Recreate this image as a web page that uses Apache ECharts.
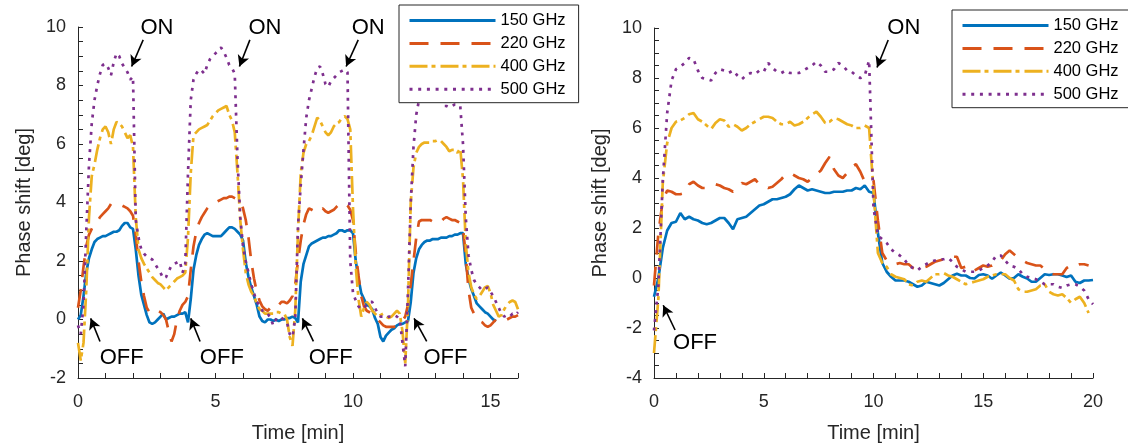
<!DOCTYPE html>
<html>
<head>
<meta charset="utf-8">
<script src="https://cdn.jsdelivr.net/npm/echarts@6/dist/echarts.min.js"></script>
<style>html,body{margin:0;padding:0;background:#fff}#c{width:1128px;height:448px}</style>
</head>
<body>
<div id="c"></div>
<script>
// ---------- DATA ----------
const seriesNames = ['150 GHz', '220 GHz', '400 GHz', '500 GHz'];

// Left panel: sample times 0..16 min, step 0.1
const tLeft = Array.from({length: 161}, (_, i) => i / 10);
const b150L = [
0.0,0.15,0.8,1.6,2.1,2.4,2.65,2.75,2.8,2.85,
2.85,2.9,2.95,3.0,3.0,3.05,3.2,3.3,3.3,3.15,
3.1,2.4,1.5,0.85,0.5,0.15,-0.1,-0.15,-0.1,0.0,
0.1,0.2,0.0,0.05,0.1,0.1,0.15,0.2,0.2,0.25,
-0.1,0.7,1.7,2.2,2.55,2.75,2.9,2.95,2.9,2.85,
2.85,2.85,2.85,2.95,3.05,3.15,3.15,3.1,3.0,2.9,
2.7,1.95,1.45,1.1,0.8,0.5,0.1,-0.05,-0.1,0.0,
0.0,-0.05,0.0,-0.05,0.0,0.0,0.05,0.05,0.1,0.05,
-0.1,1.3,1.9,2.2,2.5,2.6,2.65,2.7,2.75,2.8,
2.8,2.85,2.85,2.9,2.95,3.05,3.05,3.0,3.05,3.05,
2.95,2.0,1.4,0.9,0.7,0.5,0.45,0.35,0.05,-0.15,
-0.6,-0.75,-0.55,-0.45,-0.35,-0.3,-0.2,-0.15,-0.15,-0.1,
-0.05,0.6,1.6,2.1,2.4,2.55,2.65,2.7,2.7,2.75,
2.75,2.75,2.8,2.8,2.8,2.85,2.85,2.9,2.9,2.95,
2.95,1.9,1.4,1.05,0.8,0.55,0.45,0.35,0.25,0.2,
0.1,0.0,-0.05,null,null,null,null,null,null,null,
null];
const o220L = [
0.4,1.0,1.8,2.5,2.9,3.1,3.25,3.35,3.5,3.6,
3.7,3.8,3.95,3.95,3.95,3.9,3.9,3.85,3.8,3.7,
3.55,2.9,2.0,1.3,0.8,0.4,0.25,0.2,0.25,0.3,
0.25,0.15,0.0,-0.4,-0.75,-0.5,0.0,0.3,0.5,0.6,
0.8,1.7,2.5,3.0,3.3,3.5,3.65,3.8,3.9,3.95,
4.0,4.05,4.1,4.15,4.15,4.2,4.2,4.15,4.1,4.05,
3.8,3.4,2.8,2.0,1.4,0.95,0.65,0.45,0.35,0.3,
0.4,0.5,0.55,0.5,0.6,0.6,0.55,0.65,0.8,1.2,
2.0,2.7,3.25,3.6,3.8,3.75,3.7,3.65,3.75,3.8,
3.7,3.65,3.7,3.75,3.85,3.95,4.0,3.95,3.9,3.75,
3.4,2.3,1.5,0.8,0.45,0.3,0.25,0.2,0.1,0.0,
-0.1,-0.2,-0.25,-0.25,-0.25,-0.25,-0.2,-0.15,-0.05,0.1,
0.5,1.2,2.0,2.8,3.35,3.4,3.4,3.4,3.4,3.35,
3.35,3.3,3.35,3.45,3.5,3.45,3.4,3.4,3.35,3.3,
3.1,2.2,1.0,0.4,0.2,0.05,-0.05,-0.1,-0.2,-0.25,
-0.2,-0.1,0.0,0.05,0.05,0.0,0.0,0.05,0.1,0.1,
0.15];
const y400L = [
-0.8,-1.4,-0.8,1.0,3.5,4.9,5.3,5.8,6.2,6.5,
6.6,6.4,6.0,6.5,6.75,6.7,6.6,6.4,6.2,6.3,
5.9,3.5,2.4,2.1,1.9,1.75,1.6,1.45,1.35,1.25,
1.2,1.1,1.0,1.1,1.2,1.3,1.4,1.45,1.5,1.6,
2.8,5.0,6.3,6.4,6.5,6.55,6.6,6.65,6.8,6.95,
7.05,7.15,7.2,7.25,7.3,7.0,6.8,6.4,5.0,3.4,
2.4,1.6,1.2,0.95,0.8,0.55,0.35,0.3,0.2,0.2,
0.2,0.2,0.25,0.25,0.2,0.2,0.0,-0.6,-0.9,0.3,
3.0,5.0,5.7,6.0,6.1,6.3,6.6,6.9,6.8,6.6,
6.4,6.3,6.4,6.6,6.7,6.75,6.9,6.95,6.85,6.5,
3.8,1.8,0.7,0.1,0.4,0.6,0.5,0.3,0.2,0.1,
0.15,0.2,0.1,0.05,0.1,0.2,0.3,0.2,-0.4,-1.5,
0.5,4.0,5.2,5.7,5.9,6.0,6.05,6.05,6.05,6.1,
6.1,6.15,6.1,6.0,5.9,5.75,5.8,5.8,5.7,5.85,
4.8,2.6,1.6,1.1,0.85,0.7,0.8,0.95,1.1,1.15,
0.9,0.5,0.3,0.1,0.15,0.35,0.5,0.6,0.65,0.6,
0.35];
const p500L = [
-0.2,-0.5,0.5,3.0,5.3,6.7,7.5,8.0,8.4,8.7,
8.75,8.6,8.35,8.8,9.1,9.0,8.75,8.6,8.45,8.2,
8.3,3.4,2.8,2.4,2.25,2.15,2.1,2.05,1.9,1.75,
1.6,1.4,1.45,1.65,1.85,1.9,1.95,2.0,1.6,1.9,
5.0,7.5,8.2,8.4,8.55,8.5,8.4,8.7,8.9,9.0,
9.1,9.2,9.3,9.15,8.95,8.7,8.6,8.4,5.5,3.5,
2.5,2.0,1.6,1.2,0.9,0.6,0.5,0.3,0.3,0.2,
0.05,-0.2,0.0,0.1,0.05,0.0,-0.1,-0.5,-0.6,0.05,
3.2,4.6,5.8,6.9,7.5,7.9,8.3,8.6,8.65,8.4,
8.05,7.95,8.15,8.25,8.35,8.45,8.5,8.55,8.45,2.0,
0.9,0.65,0.45,0.35,0.4,0.5,0.6,0.6,0.4,0.2,
0.1,0.1,0.05,0.1,0.1,0.15,0.1,0.0,-0.8,-1.6,
1.0,4.0,5.9,7.0,7.5,7.8,7.9,8.0,8.0,7.9,
7.8,7.7,7.5,7.3,7.3,7.25,7.3,7.35,7.35,7.3,
6.0,3.5,2.2,1.7,1.35,1.2,1.1,1.0,1.05,1.1,
0.95,0.8,0.6,0.4,0.2,0.1,0.15,0.1,0.2,0.15,
0.25];

// Right panel: sample times 0..20 min, step 0.2
const tRight = Array.from({length: 101}, (_, i) => i * 2 / 10);
const b150R = [
-0.75,0.0,1.2,1.9,2.2,2.25,2.6,2.35,2.45,2.35,
2.3,2.2,2.15,2.2,2.3,2.4,2.4,2.2,1.95,2.35,
2.4,2.45,2.6,2.75,2.9,2.95,3.05,3.15,3.15,3.2,
3.25,3.35,3.55,3.7,3.6,3.5,3.55,3.5,3.45,3.4,
3.4,3.45,3.45,3.45,3.5,3.5,3.6,3.55,3.7,3.45,
3.4,1.8,0.6,0.25,0.05,-0.1,-0.1,-0.1,-0.15,-0.25,
-0.35,-0.3,-0.15,-0.2,-0.25,-0.3,-0.2,-0.05,0.1,0.17,
0.1,0.1,0.0,-0.02,0.12,0.15,0.1,-0.03,0.1,0.22,
0.1,-0.03,0.0,0.15,0.05,-0.02,-0.15,-0.15,0.0,0.15,
0.12,0.15,0.15,0.1,0.04,0.1,-0.15,-0.2,-0.1,-0.1,
-0.08];
const o220R = [
-0.3,1.8,3.1,3.5,3.45,3.35,3.35,3.4,3.75,3.85,
3.7,3.6,3.6,3.7,3.75,3.7,3.6,3.55,3.45,3.6,
3.8,3.75,3.85,3.95,3.75,3.7,3.6,3.65,3.8,3.95,
4.15,4.2,4.1,4.0,3.95,3.85,4.0,4.15,4.3,4.6,
4.85,4.35,4.1,4.0,4.2,4.45,4.55,4.25,3.85,3.95,
3.9,2.3,1.0,0.7,0.6,0.55,0.6,0.55,0.55,0.4,
0.35,0.4,0.45,0.55,0.65,0.7,0.75,0.75,0.85,0.85,
0.4,0.45,0.5,0.3,0.4,0.5,0.45,0.5,0.65,0.7,
0.95,1.1,0.95,0.8,0.7,0.6,0.55,0.5,0.5,0.35,
0.2,0.15,0.15,0.15,0.4,0.5,0.45,0.55,0.55,0.5,
null];
const y400R = [
-3.0,-0.8,3.8,5.4,6.0,6.25,6.3,6.4,6.55,6.6,
6.35,6.25,6.1,5.95,6.2,6.35,6.3,6.05,6.15,6.05,
5.9,6.0,6.15,6.25,6.35,6.45,6.45,6.4,6.25,6.15,
6.15,6.25,6.1,6.15,6.25,6.4,6.55,6.65,6.45,6.2,
6.25,6.4,6.35,6.25,6.15,6.1,6.0,6.0,6.1,6.0,
3.5,1.0,0.6,0.45,0.15,0.05,0.0,-0.05,-0.25,-0.3,
-0.15,-0.1,-0.15,0.0,0.15,0.15,0.2,0.1,0.05,-0.05,
-0.15,-0.25,-0.2,-0.15,-0.1,-0.05,0.05,0.1,0.15,0.15,
0.15,0.0,-0.1,-0.45,-0.55,-0.55,-0.5,-0.45,-0.3,-0.25,
-0.55,-0.65,-0.7,-0.65,-0.8,-1.0,-0.85,-0.75,-1.0,-1.4,
null];
const p500R = [
-2.1,-0.3,3.9,6.6,7.9,8.35,8.45,8.6,8.8,8.75,
8.3,8.0,7.95,7.9,8.2,8.35,8.3,8.2,8.3,8.1,
7.95,8.1,8.2,8.15,8.3,8.25,8.6,8.4,8.25,8.2,
8.3,8.2,8.2,8.2,8.3,8.4,8.5,8.65,8.5,8.25,
8.25,8.35,8.6,8.5,8.3,8.25,8.1,8.0,8.1,8.7,
2.8,1.7,1.55,1.4,1.15,1.0,0.9,0.75,0.5,0.4,
0.3,0.45,0.55,0.65,0.7,0.75,0.75,0.8,0.65,0.45,
0.35,0.25,0.25,0.25,0.3,0.4,0.5,0.65,0.9,0.9,
0.7,0.5,0.45,0.35,0.15,0.05,0.0,-0.05,-0.15,-0.25,
-0.25,-0.25,-0.35,-0.4,-0.3,-0.25,-0.25,-0.35,-0.5,-0.85,
-1.05];

// Annotations (data coordinates)
const onTextLeft = [[2.87, 9.97], [6.8, 9.97], [10.55, 9.97]];
const offTextLeft = [[1.59, -1.32], [5.23, -1.32], [9.19, -1.32], [13.36, -1.32]];
const arrowsLeft = [
  [[2.37, 9.56], [1.95, 8.65]], [[6.25, 9.56], [5.87, 8.65]], [[10.19, 9.56], [9.75, 8.65]],
  [[0.8, -0.75], [0.46, 0.04]], [[4.44, -0.75], [4.1, 0.04]], [[8.56, -0.75], [8.16, 0.04]], [[12.68, -0.75], [12.22, 0.04]]
];
const onTextRight = [[11.38, 10.0]];
const offTextRight = [[1.87, -2.61]];
const arrowsRight = [[[10.67, 9.52], [10.16, 8.42]], [[0.96, -2.08], [0.42, -1.09]]];

// ---------- STYLE ----------
const FONT = '"Liberation Sans", Arial, Helvetica, sans-serif';
const AX = '#262626';
const LW = 2.7;
const lineStyles = [
  {color: '#0072BD', type: 'solid'},
  {color: '#D95319', type: [19, 12]},
  {color: '#EDB120', type: [18, 4, 4, 5]},
  {color: '#7E2F8E', type: [3, 5.7]}
];

function pairs(t, v) { return t.map((x, i) => [x, v[i]]); }

function mkX(gi, max) {
  return {
    gridIndex: gi, type: 'value', min: 0, max: max, interval: 1,
    name: 'Time [min]', nameLocation: 'middle', nameGap: 45,
    nameTextStyle: {fontSize: 20, color: AX, fontFamily: FONT},
    axisLine: {show: true, onZero: false, lineStyle: {color: AX, width: 1}},
    axisTick: {show: true, inside: true, length: 5, lineStyle: {color: AX, width: 1}},
    axisLabel: {fontSize: 18, color: AX, fontFamily: FONT, margin: 15,
      formatter: v => (Math.abs(v % 5) < 1e-9 ? String(v) : '')},
    splitLine: {show: false}
  };
}
function mkY(gi, min) {
  return {
    gridIndex: gi, type: 'value', min: min, max: 10, interval: 0.5,
    name: 'Phase shift [deg]', nameLocation: 'middle', nameGap: 44,
    nameTextStyle: {fontSize: 20, color: AX, fontFamily: FONT},
    axisLine: {show: true, onZero: false, lineStyle: {color: AX, width: 1}},
    axisTick: {show: true, inside: true, length: 5, lineStyle: {color: AX, width: 1}},
    axisLabel: {fontSize: 18, color: AX, fontFamily: FONT, margin: 12,
      formatter: v => (Math.abs(v % 2) < 1e-9 ? String(v) : '')},
    splitLine: {show: false}
  };
}

function mkSeries(gi, t, arrs) {
  return arrs.map((a, k) => ({
    name: seriesNames[k], type: 'line', xAxisIndex: gi, yAxisIndex: gi,
    data: pairs(t, a), symbol: 'none', showSymbol: false, animation: false,
    connectNulls: false,
    lineStyle: {width: LW, color: lineStyles[k].color, type: lineStyles[k].type, cap: 'butt'},
    itemStyle: {color: lineStyles[k].color},
    z: 2 + k
  }));
}

function mkAnnot(gi, arrows, onT, offT) {
  const txt = (arr, s) => arr.map(c => ({coord: c, value: s, name: s}));
  return {
    name: 'annot' + gi, type: 'line', xAxisIndex: gi, yAxisIndex: gi, data: [],
    animation: false, silent: true, z: 10,
    markLine: {
      silent: true, animation: false, symbol: ['none', 'arrow'], symbolSize: [9, 11],
      label: {show: false},
      lineStyle: {color: '#000', width: 1.6, type: 'solid'},
      emphasis: {disabled: true},
      data: arrows.map(a => [{coord: a[0]}, {coord: a[1]}])
    },
    markPoint: {
      silent: true, animation: false, symbol: 'circle', symbolSize: 1,
      itemStyle: {color: 'rgba(0,0,0,0)'},
      label: {show: true, position: 'inside', fontSize: 22, color: '#000', fontFamily: FONT,
        formatter: p => p.name},
      data: txt(onT, 'ON').concat(txt(offT, 'OFF'))
    }
  };
}

function mkLegend(left, top) {
  return {
    orient: 'vertical', left: left, top: top, data: seriesNames,
    itemWidth: 86, itemHeight: 14, itemGap: 5.9,
    padding: [7, 13, 5, 9],
    borderColor: '#262626', borderWidth: 1, borderRadius: 0, backgroundColor: '#fff',
    itemStyle: {color: 'rgba(0,0,0,0)', borderWidth: 0, opacity: 0},
    lineStyle: {width: 3},
    textStyle: {fontSize: 16.5, color: '#000', fontFamily: FONT},
    selectedMode: false, z: 20
  };
}

const chart = echarts.init(document.getElementById('c'), null, {renderer: 'canvas'});
chart.setOption({
  animation: false,
  backgroundColor: '#fff',
  textStyle: {fontFamily: FONT},
  grid: [
    {left: 78, right: 610, top: 27, bottom: 68},
    {left: 654, right: 35, top: 28, bottom: 68}
  ],
  xAxis: [mkX(0, 16), mkX(1, 20)],
  yAxis: [mkY(0, -2), mkY(1, -4)],
  legend: [mkLegend(399, 5), mkLegend(952, 10)],
  series: []
    .concat(mkSeries(0, tLeft, [b150L, o220L, y400L, p500L]))
    .concat(mkSeries(1, tRight, [b150R, o220R, y400R, p500R]))
    .concat([mkAnnot(0, arrowsLeft, onTextLeft, offTextLeft), mkAnnot(1, arrowsRight, onTextRight, offTextRight)])
});
</script>
</body>
</html>
